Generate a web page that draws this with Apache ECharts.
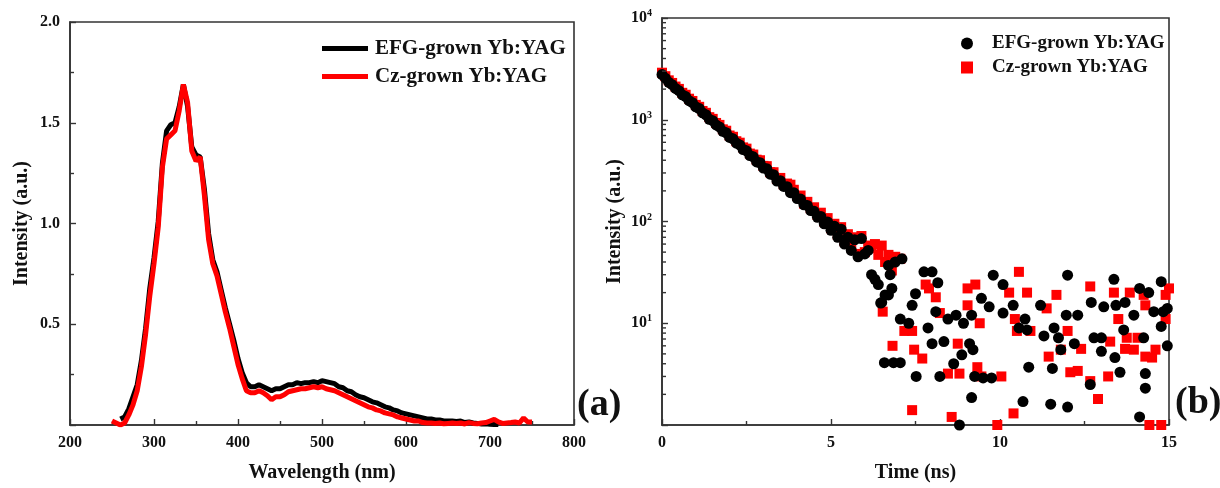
<!DOCTYPE html>
<html>
<head>
<meta charset="utf-8">
<script src="https://cdn.jsdelivr.net/npm/echarts@6/dist/echarts.min.js"></script>
<style>
  html, body { margin: 0; padding: 0; background: #fff; }
  #chart { width: 1220px; height: 488px; }
</style>
</head>
<body>
<div id="chart"></div>
<script>
// ---- (a) emission spectra ----
const wavelength = [250,255,260,265,270,275,280,285,290,295,300,305,310,315,320,325,330,335,340,345,350,355,360,365,370,375,380,385,390,395,400,405,410,415,420,425,430,435,440,445,450,455,460,465,470,475,480,485,490,495,500,505,510,515,520,525,530,535,540,545,550,555,560,565,570,575,580,585,590,595,600,605,610,615,620,625,630,635,640,645,650,655,660,665,670,675,680,685,690,695,700,705,710,715,720,725,730,735,740,745,750];
const efgSpectrum = [null,null,0.03,0.04,0.08,0.14,0.20,0.32,0.48,0.68,0.83,1.01,1.30,1.46,1.49,1.50,1.58,1.69,1.58,1.38,1.34,1.33,1.17,0.95,0.82,0.76,0.67,0.58,0.50,0.42,0.33,0.26,0.21,0.19,0.19,0.20,0.19,0.18,0.17,0.18,0.18,0.19,0.20,0.20,0.21,0.205,0.21,0.21,0.215,0.21,0.22,0.215,0.21,0.205,0.19,0.185,0.17,0.165,0.15,0.14,0.135,0.125,0.115,0.11,0.10,0.09,0.085,0.075,0.07,0.06,0.055,0.05,0.045,0.04,0.035,0.03,0.03,0.025,0.025,0.02,0.02,0.02,0.018,0.02,0.012,0.015,0.01,0.008,0.005,0.006,0.004,0.003,0.002,null,null,null,null,null,null,null,null];
const czSpectrum = [0.02,0.01,0.0,0.01,0.05,0.10,0.17,0.29,0.45,0.64,0.80,0.98,1.28,1.42,1.44,1.46,1.56,1.69,1.60,1.36,1.31,1.33,1.14,0.92,0.80,0.74,0.65,0.56,0.48,0.39,0.30,0.23,0.17,0.16,0.16,0.17,0.16,0.145,0.125,0.14,0.14,0.15,0.165,0.17,0.175,0.18,0.18,0.185,0.19,0.185,0.19,0.18,0.175,0.17,0.16,0.15,0.14,0.13,0.12,0.11,0.10,0.09,0.085,0.075,0.07,0.06,0.055,0.05,0.04,0.035,0.03,0.025,0.02,0.02,0.012,0.01,0.01,0.008,0.01,0.006,0.008,0.01,0.007,0.01,0.005,0.012,0.008,0.006,0.01,0.012,0.02,0.028,0.015,0.008,0.01,0.012,0.015,0.01,0.035,0.015,0.015];

// ---- (b) decay curves: densely sampled part ----
const decayTime = [0,0.1,0.2,0.3,0.4,0.5,0.6,0.7,0.8,0.9,1.0,1.1,1.2,1.3,1.4,1.5,1.6,1.7,1.8,1.9,2.0,2.1,2.2,2.3,2.4,2.5,2.6,2.7,2.8,2.9,3.0,3.1,3.2,3.3,3.4,3.5,3.6,3.7,3.8,3.9,4.0,4.1,4.2,4.3,4.4,4.5,4.6,4.7,4.8,4.9,5.0,5.1,5.2,5.3,5.4,5.5,5.6,5.7,5.8,5.9,6.0,6.1,6.2,6.3,6.4,6.5,6.6,6.7,6.8,6.9];
const efgDecay = [2780,2560,2330,2210,2030,1930,1760,1690,1540,1470,1340,1290,1170,1120,1010,980,890,850,770,745,670,650,590,565,510,495,445,432,385,378,335,330,292,288,250,252,221,220,192,192,168,166,146,144,128,126,110,112,95,99,82,90,70,84,60,70,52,66,45,68,48,52,30,27,24,16,19,37,22,40];
const czDecay = [2900,2680,2440,2300,2120,2010,1840,1760,1610,1530,1400,1340,1220,1170,1060,1020,930,890,805,780,700,680,615,595,535,520,465,455,405,400,352,350,305,305,262,268,232,236,230,205,178,180,150,156,135,138,116,122,100,108,86,95,74,88,64,75,56,70,48,72,50,58,55,60,47,58,40,47,33,45];

// ---- (b) noise-floor tail ----
const efgTailTime = [6.47,6.58,6.7,6.75,6.85,7.05,7.05,7.1,7.3,7.4,7.52,7.5,7.75,7.87,7.99,7.99,8.1,8.16,8.22,8.34,8.46,8.63,8.7,8.8,8.87,8.92,9.1,9.16,9.16,9.2,9.25,9.45,9.5,9.68,9.75,9.8,10.09,10.09,10.39,10.56,10.68,10.74,10.8,10.85,11.2,11.3,11.5,11.55,11.6,11.73,11.8,11.96,12.0,12.0,12.2,12.3,12.67,12.7,12.78,13.0,13.0,13.07,13.37,13.4,13.43,13.55,13.66,13.7,13.96,14.13,14.13,14.25,14.3,14.3,14.4,14.55,14.77,14.77,14.83,14.95,14.95];
const efgTailCounts = [15.8,4.1,19,30,4.1,4.1,11,43,10,15,3.0,19.5,32,9,32,6.3,13,25,3.0,6.6,11,4.0,12,1.0,4.9,10,6.3,1.86,12,5.5,3.0,17.6,2.9,14.5,2.9,29.7,24,12.6,15,9,1.7,11,8.6,3.7,15,7.5,1.6,3.6,9,7.2,5.5,12,29.7,1.5,6.3,12,2.5,16,7.2,7.2,5.3,14.5,27,4.6,15,3.3,8.6,16,12,22,1.2,7.2,2.3,3.2,20,13,25.6,9.3,13,6.0,14];
const czTailTime = [6.53,6.82,7.05,7.17,7.4,7.4,7.46,7.7,7.8,7.9,8.1,8.16,8.22,8.46,8.57,8.75,8.8,9.04,9.04,9.27,9.33,9.4,9.45,9.92,10.04,10.27,10.4,10.44,10.5,10.56,10.8,10.9,11.38,11.44,11.67,11.8,12.0,12.08,12.3,12.4,12.67,12.67,12.9,13.2,13.26,13.37,13.5,13.7,13.75,13.84,13.96,14.07,14.25,14.3,14.3,14.42,14.5,14.6,14.77,14.9,14.9,15.0];
const czTailCounts = [13,6.0,43,8.4,8.4,1.4,5.5,4.5,24,22,18,0.9,12.6,3.2,1.2,6.3,3.2,22,15,24,3.7,10,3.0,1.0,3.0,20,1.3,11,8.4,32,20,8.4,14,4.7,19,5.5,8.4,3.3,3.4,5.6,23,2.7,1.8,3.0,6.6,20,11,5.6,7.2,20,5.5,7.2,19,4.7,15,1.0,4.6,5.5,1.0,19,11,22];

// ---- labels ----
const seriesNames = ['EFG-grown Yb:YAG', 'Cz-grown Yb:YAG'];
const panelLabels = ['(a)', '(b)'];
const logDecades = [0, 1, 2, 3];
const logMinorSteps = [2, 3, 4, 5, 6, 7, 8, 9];

const FONT = "'Liberation Serif', 'Times New Roman', serif";
const INK = '#111';
const FRAME = '#333';

const pairs = (xs, ys) => xs.map((x, i) => [x, ys[i]]);
const efgPoints = pairs(decayTime.concat(efgTailTime), efgDecay.concat(efgTailCounts));
const czPoints = pairs(decayTime.concat(czTailTime), czDecay.concat(czTailCounts));
const logMinorTicks = [];
logDecades.forEach(d => logMinorSteps.forEach(s => logMinorTicks.push([0, s * Math.pow(10, d)])));

const axisFrame = { show: true, lineStyle: { color: FRAME, width: 1.6 } };
const tickStyle = { color: FRAME, width: 1.4 };
const labelStyle = { fontFamily: FONT, fontWeight: 'bold', fontSize: 16, color: INK };
const nameStyle = { fontFamily: FONT, fontWeight: 'bold', fontSize: 20, color: INK };

const chart = echarts.init(document.getElementById('chart'), null, { renderer: 'canvas' });
chart.setOption({
  animation: false,
  backgroundColor: '#fff',
  grid: [
    { left: 70, top: 22, width: 504, height: 406, show: true, borderColor: FRAME, borderWidth: 1.6, backgroundColor: 'transparent' },
    { left: 662, top: 18, width: 507, height: 410, show: true, borderColor: FRAME, borderWidth: 1.6, backgroundColor: 'transparent' }
  ],
  xAxis: [
    {
      gridIndex: 0, type: 'value', min: 200, max: 800, interval: 100,
      name: 'Wavelength (nm)', nameLocation: 'middle', nameGap: 38, nameTextStyle: nameStyle,
      axisLine: axisFrame,
      axisTick: { show: true, inside: true, length: 6, lineStyle: tickStyle },
      minorTick: { show: true, splitNumber: 2, length: 4, lineStyle: tickStyle },
      axisLabel: Object.assign({ margin: 10 }, labelStyle),
      splitLine: { show: false }
    },
    {
      gridIndex: 1, type: 'value', min: 0, max: 15, interval: 5,
      name: 'Time (ns)', nameLocation: 'middle', nameGap: 38, nameTextStyle: nameStyle,
      axisLine: axisFrame,
      axisTick: { show: true, inside: true, length: 6, lineStyle: tickStyle },
      minorTick: { show: true, splitNumber: 2, length: 4, lineStyle: tickStyle },
      axisLabel: Object.assign({ margin: 10 }, labelStyle),
      splitLine: { show: false }
    }
  ],
  yAxis: [
    {
      gridIndex: 0, type: 'value', min: 0, max: 2, interval: 0.5,
      name: 'Intensity (a.u.)', nameLocation: 'middle', nameGap: 38, nameRotate: 90, nameTextStyle: nameStyle,
      axisLine: axisFrame,
      axisTick: { show: true, inside: true, length: 6, lineStyle: tickStyle },
      minorTick: { show: true, splitNumber: 2, length: 4, lineStyle: tickStyle },
      axisLabel: Object.assign({ margin: 10, formatter: v => (v === 0 ? '' : v.toFixed(1)) }, labelStyle),
      splitLine: { show: false }
    },
    {
      gridIndex: 1, type: 'log', logBase: 10, min: 1, max: 10000,
      name: 'Intensity (a.u.)', nameLocation: 'middle', nameGap: 37, nameRotate: 90, nameTextStyle: nameStyle,
      axisLine: axisFrame,
      axisTick: { show: true, inside: true, length: 6, lineStyle: tickStyle },
      axisLabel: Object.assign({
        margin: 10,
        formatter: v => (v <= 1 ? '' : '{b|10}{s|' + Math.round(Math.log10(v)) + '}'),
        rich: {
          b: { fontFamily: FONT, fontWeight: 'bold', fontSize: 16, color: INK },
          s: { fontFamily: FONT, fontWeight: 'bold', fontSize: 10, color: INK, verticalAlign: 'bottom', padding: [0, 0, 9, 0] }
        }
      }, labelStyle),
      splitLine: { show: false }
    }
  ],
  legend: [
    {
      data: seriesNames.map(n => ({ name: n, icon: 'rect' })),
      left: 317, top: 33, orient: 'vertical', itemGap: 7,
      itemWidth: 46, itemHeight: 5,
      textStyle: { fontFamily: FONT, fontWeight: 'bold', fontSize: 21, color: INK, lineHeight: 21, padding: [0, 0, 0, 2] },
      selectedMode: false
    },
    {
      data: [{ name: seriesNames[0] + ' ', icon: 'circle' }, { name: seriesNames[1] + ' ', icon: 'rect' }],
      left: 956, top: 29, orient: 'vertical', itemGap: 5,
      itemWidth: 12, itemHeight: 12,
      textStyle: { fontFamily: FONT, fontWeight: 'bold', fontSize: 19, color: INK, lineHeight: 19, padding: [0, 0, 0, 14] },
      selectedMode: false
    }
  ],
  series: [
    {
      name: seriesNames[0], type: 'line', xAxisIndex: 0, yAxisIndex: 0,
      data: pairs(wavelength, efgSpectrum), showSymbol: false, connectNulls: false,
      lineStyle: { color: '#000', width: 5 }, itemStyle: { color: '#000' }, z: 2
    },
    {
      name: seriesNames[1], type: 'line', xAxisIndex: 0, yAxisIndex: 0,
      data: pairs(wavelength, czSpectrum), showSymbol: false,
      lineStyle: { color: '#ff0000', width: 5 }, itemStyle: { color: '#ff0000' }, z: 3
    },
    {
      name: seriesNames[1] + ' ', type: 'scatter', xAxisIndex: 1, yAxisIndex: 1,
      data: czPoints, symbol: 'rect', symbolSize: 10,
      itemStyle: { color: '#ff0000', opacity: 1 }, z: 2
    },
    {
      name: seriesNames[0] + ' ', type: 'scatter', xAxisIndex: 1, yAxisIndex: 1,
      data: efgPoints, symbol: 'circle', symbolSize: 11,
      itemStyle: { color: '#000', opacity: 1 }, z: 3
    },
    {
      // log-spaced minor ticks on the decay panel's intensity axis
      type: 'custom', xAxisIndex: 1, yAxisIndex: 1, silent: true, clip: false,
      data: logMinorTicks,
      renderItem: (params, api) => {
        const p = api.coord([api.value(0), api.value(1)]);
        return { type: 'line', shape: { x1: p[0], y1: p[1], x2: p[0] + 4, y2: p[1] }, style: { stroke: FRAME, lineWidth: 1.4 } };
      },
      z: 5
    }
  ],
  graphic: [
    { type: 'text', left: 577, top: 386, style: { text: panelLabels[0], fontFamily: FONT, fontWeight: 'bold', fontSize: 38, fill: INK } },
    { type: 'text', left: 1175, top: 384, style: { text: panelLabels[1], fontFamily: FONT, fontWeight: 'bold', fontSize: 38, fill: INK } }
  ]
});
</script>
</body>
</html>
